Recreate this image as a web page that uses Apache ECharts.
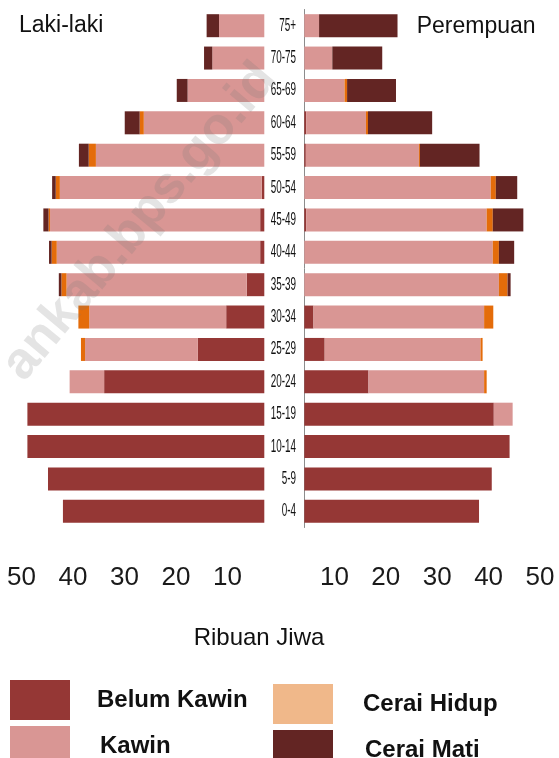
<!DOCTYPE html>
<html>
<head>
<meta charset="utf-8">
<title>Piramida Penduduk</title>
<script src="https://cdn.jsdelivr.net/npm/echarts@6/dist/echarts.min.js"></script>
<style>
  html, body { margin: 0; padding: 0; background: #fff; }
  #chart { width: 559px; height: 758px; }
</style>
</head>
<body>
<div id="chart"></div>
<script>
(function () {
  'use strict';

  // kelompok umur, dari bawah ke atas
  var ageGroups = ['0-4', '5-9', '10-14', '15-19', '20-24', '25-29', '30-34', '35-39',
    '40-44', '45-49', '50-54', '55-59', '60-64', '65-69', '70-75', '75+'];

  // Laki-laki (ribuan jiwa)
  var maleBelumKawin = [39.1, 42.0, 46.0, 46.0, 31.1, 12.9, 7.4, 3.4, 0.8, 0.8, 0.5, 0, 0, 0, 0, 0];
  var maleKawin = [0, 0, 0, 0, 6.7, 21.9, 26.6, 35.0, 39.5, 40.8, 39.2, 32.7, 23.4, 14.9, 10.1, 8.8];
  var maleCeraiHidup = [0, 0, 0, 0, 0, 0.8, 2.1, 1.0, 1.0, 0.3, 0.8, 1.4, 0.8, 0, 0, 0];
  var maleCeraiMati = [0, 0, 0, 0, 0, 0, 0, 0.5, 0.5, 1.0, 0.7, 1.9, 2.9, 2.1, 1.6, 2.4];

  // Perempuan (ribuan jiwa)
  var femaleBelumKawin = [34.3, 36.8, 40.3, 37.2, 12.6, 4.0, 1.8, 0, 0, 0.4, 0, 0.3, 0.4, 0, 0, 0];
  var femaleKawin = [0, 0, 0, 3.7, 22.7, 30.6, 33.5, 38.2, 37.0, 35.4, 36.6, 22.2, 11.7, 7.9, 5.5, 2.9];
  var femaleCeraiHidup = [0, 0, 0, 0, 0.5, 0.4, 1.8, 1.7, 1.2, 1.2, 1.0, 0.2, 0.4, 0.5, 0, 0];
  var femaleCeraiMati = [0, 0, 0, 0, 0, 0, 0, 0.6, 3.0, 6.0, 4.2, 11.7, 12.6, 9.6, 9.8, 15.4];

  var tickValues = [10, 20, 30, 40, 50];

  var statusNames = ['Belum Kawin', 'Kawin', 'Cerai Hidup', 'Cerai Mati'];
  var barColors = ['#953735', '#D99694', '#E46C0A', '#632523'];
  var legendColors = ['#953735', '#D99694', '#F0B88A', '#632523'];

  var male = [maleBelumKawin, maleKawin, maleCeraiHidup, maleCeraiMati];
  var female = [femaleBelumKawin, femaleKawin, femaleCeraiHidup, femaleCeraiMati];

  var sans = '"Liberation Sans", Arial, sans-serif';

  function sideSeries(values, axisIndex, stack) {
    return statusNames.map(function (name, i) {
      return {
        name: name,
        type: 'bar',
        stack: stack,
        xAxisIndex: axisIndex,
        yAxisIndex: axisIndex,
        barWidth: 23,
        itemStyle: { color: barColors[i] },
        emphasis: { disabled: true },
        data: values[i]
      };
    });
  }

  function tickLabelAxis(gridIndex, inverse) {
    return {
      gridIndex: gridIndex,
      type: 'value',
      min: 0,
      max: 50,
      interval: 10,
      inverse: inverse,
      axisLine: { show: false },
      axisTick: { show: false },
      splitLine: { show: false },
      axisLabel: {
        margin: 14,
        fontSize: 26,
        fontFamily: sans,
        color: '#1a1a1a',
        formatter: function (v) {
          return tickValues.indexOf(v) >= 0 ? String(v) : '';
        }
      }
    };
  }

  function legendItem(i, left, top, gap) {
    return {
      left: left,
      top: top,
      padding: 0,
      icon: 'rect',
      itemWidth: 60,
      itemHeight: 40,
      selectedMode: false,
      data: [{ name: statusNames[i], itemStyle: { color: legendColors[i] } }],
      textStyle: {
        fontSize: 24,
        fontWeight: 'bold',
        fontFamily: sans,
        color: '#111',
        padding: [0, 0, 0, gap]
      }
    };
  }

  var graphics = [
    {
      type: 'text', x: 19, y: 25.5, silent: true,
      style: { text: 'Laki-laki', fontSize: 23, fontFamily: sans, fill: '#111', verticalAlign: 'middle' }
    },
    {
      type: 'text', x: 416.7, y: 26.7, silent: true,
      style: { text: 'Perempuan', fontSize: 23, fontFamily: sans, fill: '#111', verticalAlign: 'middle' }
    },
    {
      type: 'text', x: 259, y: 638, silent: true,
      style: { text: 'Ribuan Jiwa', fontSize: 24, fontFamily: sans, fill: '#111', align: 'center', verticalAlign: 'middle' }
    },
    // watermark
    {
      type: 'text', x: 140, y: 222, rotation: 0.873, z: 100, silent: true,
      style: {
        text: 'ankab.bps.go.id', fontSize: 52, fontWeight: 'bold', fontFamily: sans,
        fill: 'rgba(120,120,120,0.2)', align: 'center', verticalAlign: 'middle'
      }
    }
  ];

  var option = {
    animation: false,
    backgroundColor: '#ffffff',
    grid: [
      { left: 6.8, top: 9.5, width: 257.5, height: 518 },
      { left: 304.3, top: 9.5, width: 257.5, height: 518 },
      { left: 21.4, top: 550, width: 257.6, height: 1 },
      { left: 283, top: 550, width: 257, height: 1 }
    ],
    xAxis: [
      { gridIndex: 0, type: 'value', min: 0, max: 50, inverse: true, show: false },
      { gridIndex: 1, type: 'value', min: 0, max: 50, show: false },
      tickLabelAxis(2, true),
      tickLabelAxis(3, false)
    ],
    yAxis: [
      { gridIndex: 0, type: 'category', data: ageGroups, show: false },
      {
        gridIndex: 1,
        type: 'category',
        data: ageGroups,
        axisLine: { lineStyle: { color: '#8c8c8c', width: 1 } },
        axisTick: { length: 3, lineStyle: { color: '#8c8c8c' } },
        // labels drawn below as condensed text
        axisLabel: { show: false }
      },
      { gridIndex: 2, type: 'value', show: false },
      { gridIndex: 3, type: 'value', show: false }
    ],
    legend: [
      legendItem(0, 10, 680, 22),
      legendItem(1, 10, 726, 25),
      legendItem(2, 273, 684, 25),
      legendItem(3, 273, 730, 27)
    ],
    graphic: graphics,
    series: sideSeries(male, 0, 'laki').concat(sideSeries(female, 1, 'perempuan'))
  };

  var myChart = echarts.init(document.getElementById('chart'), null, { renderer: 'canvas' });
  myChart.setOption(option);

  // kategori umur: huruf sempit seperti aslinya, posisi dari sumbu kategori
  var ageLabels = ageGroups.map(function (age) {
    return {
      type: 'text',
      x: 296,
      y: myChart.convertToPixel({ yAxisIndex: 1 }, age),
      scaleX: 0.55,
      silent: true,
      style: {
        text: age, fontSize: 18, fontFamily: sans, fill: '#111',
        align: 'right', verticalAlign: 'middle'
      }
    };
  });
  myChart.setOption({ graphic: graphics.concat(ageLabels) });
}());
</script>
</body>
</html>
